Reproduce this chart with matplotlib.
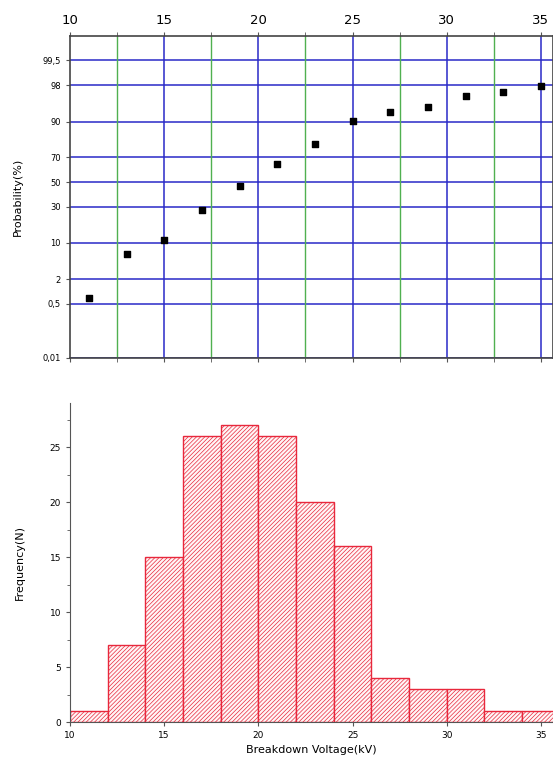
from statistics import NormalDist

import numpy as np
import matplotlib
matplotlib.use("Agg")
import matplotlib.pyplot as plt
from matplotlib.ticker import MultipleLocator, FixedLocator, NullLocator

# cumulative probability plot (top)
voltage = [11, 13, 15, 17, 19, 21, 23, 25, 27, 29, 31, 33, 35]
probability = [0.71, 6.3, 11.0, 28.0, 47.1, 64.7, 78.9, 90.2, 93.2, 94.5, 96.5, 97.2, 97.9]
prob_ticks = [0.01, 0.5, 2, 10, 30, 50, 70, 90, 98, 99.5]
prob_labels = ["0,01", "0,5", "2", "10", "30", "50", "70", "90", "98", "99,5"]

# histogram (bottom)
bin_left = [10, 12, 14, 16, 18, 20, 22, 24, 26, 28, 30, 32, 34]
counts = [1, 7, 15, 26, 27, 26, 20, 16, 4, 3, 3, 1, 1]
bin_width = 2

_nd = NormalDist()
_ppf = np.vectorize(_nd.inv_cdf, otypes=[float])
_cdf = np.vectorize(_nd.cdf, otypes=[float])


def prob_fwd(p):
    p = np.clip(np.asarray(p, dtype=float) / 100.0, 1e-9, 1 - 1e-9)
    return _ppf(p)


def prob_inv(z):
    return _cdf(np.asarray(z, dtype=float)) * 100.0


plt.rcParams["hatch.linewidth"] = 0.5
fig = plt.figure(figsize=(5.53, 7.69), dpi=100)

# ---- top: probability plot ----
ax1 = fig.add_axes([0.1266, 0.5345, 0.8734, 0.4187])
ax1.set_yscale("function", functions=(prob_fwd, prob_inv))
ax1.set_xlim(10, 35.64)
ax1.set_ylim(0.01, 99.9)

for yv in prob_ticks:
    ax1.axhline(yv, color="#2a2ac8", lw=1.1, zorder=1)
for xv in [15, 20, 25, 30, 35]:
    ax1.axvline(xv, color="#2a2ac8", lw=1.1, zorder=1)
for xv in [12.5, 17.5, 22.5, 27.5, 32.5]:
    ax1.axvline(xv, color="#50b050", lw=1.0, zorder=1)

ax1.scatter(voltage, probability, marker="s", s=22, color="black", zorder=3)

ax1.yaxis.set_major_locator(FixedLocator(prob_ticks))
ax1.set_yticklabels(prob_labels, fontsize=6)
ax1.yaxis.set_minor_locator(NullLocator())
ax1.xaxis.set_major_locator(MultipleLocator(5))
ax1.xaxis.set_minor_locator(MultipleLocator(2.5))
ax1.tick_params(axis="x", which="both", top=True, labeltop=True, labelbottom=False,
                direction="out", labelsize=9.5, length=3, color="#555555")
ax1.tick_params(axis="y", direction="out", length=3, color="#555555")
ax1.set_ylabel("Probability(%)", fontsize=8, labelpad=14)
for s in ax1.spines.values():
    s.set_color("#444444")
    s.set_linewidth(1.2)

# ---- bottom: histogram ----
ax2 = fig.add_axes([0.1266, 0.0607, 0.8734, 0.4152])
ax2.bar(bin_left, counts, width=bin_width, align="edge", facecolor="#fff6f6",
        edgecolor="#e8283c", hatch="////////", linewidth=1.0)
ax2.set_xlim(10, 35.64)
ax2.set_ylim(0, 29)
ax2.xaxis.set_major_locator(MultipleLocator(5))
ax2.yaxis.set_major_locator(MultipleLocator(5))
ax2.yaxis.set_minor_locator(MultipleLocator(2.5))
ax2.tick_params(axis="both", which="both", direction="out", labelsize=6.5,
                length=3, color="#555555")
ax2.tick_params(axis="y", which="minor", length=2)
ax2.spines["top"].set_visible(False)
ax2.spines["right"].set_visible(False)
for s in ["left", "bottom"]:
    ax2.spines[s].set_color("#555555")
ax2.set_ylabel("Frequency(N)", fontsize=8, labelpad=18)
ax2.set_xlabel("Breakdown Voltage(kV)", fontsize=8, labelpad=3)

fig.savefig("out.png", dpi=100)
